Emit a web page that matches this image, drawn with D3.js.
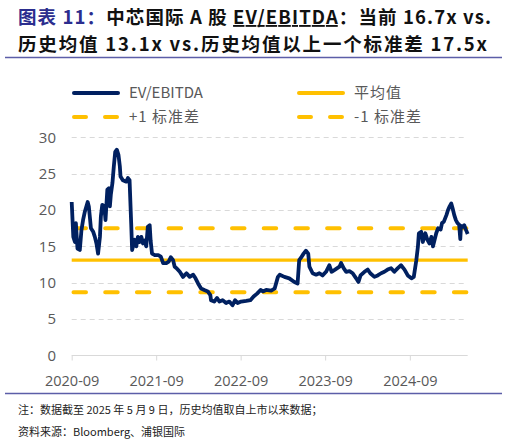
<!DOCTYPE html>
<html>
<head>
<meta charset="utf-8">
<script src="https://cdn.jsdelivr.net/npm/d3@7"></script>
<style>
  body { margin: 0; background: #fff; }
  svg { display: block; font-family: "Noto Sans CJK SC", "Noto Sans", sans-serif; }
</style>
</head>
<body>
<div id="chart"></div>
<script>
// EV/EBITDA series
var dates = [
  "2020-09-01","2020-09-08","2020-09-15","2020-09-19","2020-09-26","2020-10-06","2020-10-13","2020-10-20",
  "2020-10-28","2020-11-09","2020-11-14","2020-11-23","2020-12-03","2020-12-10","2020-12-17","2020-12-24",
  "2021-01-01","2021-01-05","2021-01-11","2021-01-20","2021-01-25","2021-02-02","2021-02-09","2021-02-13",
  "2021-02-17","2021-02-24","2021-03-02","2021-03-08","2021-03-15","2021-03-22","2021-03-28","2021-03-31",
  "2021-04-10","2021-04-25","2021-05-02","2021-05-09","2021-05-16","2021-05-20","2021-05-31","2021-06-07",
  "2021-06-14","2021-06-22","2021-06-29","2021-07-06","2021-07-13","2021-07-20","2021-07-27","2021-08-04",
  "2021-08-08","2021-08-14","2021-08-26","2021-09-10","2021-09-21","2021-10-01","2021-10-15","2021-10-25",
  "2021-11-03","2021-11-13","2021-11-20","2021-11-28","2021-12-12","2021-12-26","2022-01-10","2022-01-24",
  "2022-02-08","2022-02-18","2022-03-01","2022-03-14","2022-03-28","2022-04-12","2022-04-23","2022-04-26",
  "2022-05-10","2022-05-22","2022-06-01","2022-06-15","2022-06-30","2022-07-14","2022-07-28","2022-08-08",
  "2022-08-19","2022-09-03","2022-09-25","2022-10-13","2022-10-27","2022-11-11","2022-11-26","2022-12-06",
  "2022-12-20","2023-01-11","2023-01-26","2023-02-09","2023-02-17","2023-03-09","2023-03-30","2023-04-21",
  "2023-05-05","2023-05-12","2023-05-19","2023-05-31","2023-06-10","2023-06-20","2023-06-25","2023-07-09",
  "2023-07-24","2023-08-07","2023-08-21","2023-09-05","2023-09-19","2023-09-29","2023-10-14","2023-11-02",
  "2023-11-09","2023-11-20","2023-12-01","2023-12-15","2023-12-29","2024-01-13","2024-01-23","2024-02-01",
  "2024-02-18","2024-03-03","2024-03-14","2024-04-01","2024-04-15","2024-04-30","2024-05-14","2024-05-28",
  "2024-06-12","2024-06-26","2024-07-11","2024-07-25","2024-08-09","2024-08-23","2024-09-08","2024-09-18",
  "2024-09-29","2024-10-06","2024-10-10","2024-10-20","2024-10-27","2024-11-07","2024-11-16","2024-11-25",
  "2024-12-03","2024-12-10","2024-12-17","2024-12-24","2025-01-01","2025-01-12","2025-01-18","2025-01-26",
  "2025-02-06","2025-02-13","2025-02-20","2025-02-27","2025-03-05","2025-03-12","2025-03-19","2025-03-26",
  "2025-04-02","2025-04-07","2025-04-10","2025-04-17","2025-04-24","2025-05-01","2025-05-09"
];
var values = [
  21.1,16.3,15.6,18.2,14.7,14.5,17.2,18.6,
  19.8,21.1,20.5,17.5,17.0,16.3,15.4,14.0,
  16.3,19.1,20.7,20.5,18.6,22.8,23.0,20.5,
  22.1,23.7,26.0,28.0,28.3,27.6,26.0,24.6,
  24.1,23.9,24.4,24.1,18.2,14.5,15.9,15.0,
  16.3,15.6,16.3,15.4,15.8,15.0,17.7,17.9,
  15.8,14.0,13.8,13.8,13.6,12.7,12.7,12.9,
  13.5,13.1,12.2,12.0,11.5,10.8,11.3,10.8,
  11.1,10.6,9.9,9.2,9.0,8.8,8.3,7.6,
  7.4,7.9,7.4,7.6,7.2,7.4,6.9,7.6,
  7.2,7.4,7.5,7.6,8.1,8.5,9.0,8.8,
  9.0,8.9,9.2,10.8,11.1,10.8,10.6,10.1,
  9.9,13.1,13.4,14.0,14.4,14.0,12.2,11.3,
  11.1,11.3,11.0,11.5,12.4,11.5,11.8,12.2,
  12.7,12.0,11.5,11.6,11.3,10.6,10.1,11.0,
  11.5,11.8,11.3,10.8,11.0,11.3,11.5,11.8,
  12.0,11.5,12.0,12.4,11.8,11.0,10.6,10.8,
  13.1,15.0,16.8,17.0,15.6,16.8,15.9,15.4,
  16.3,15.0,15.9,16.8,17.5,17.3,18.2,18.4,
  19.3,20.0,20.5,20.9,20.2,19.3,18.6,18.2,
  18.0,16.0,17.8,17.7,17.9,17.3,16.7
];
var meanValue = 13.1;
var plusOneStd = 17.5;
var minusOneStd = 8.7;

var yTicks = [0, 5, 10, 15, 20, 25, 30];
var xTickDates = ["2020-09-01", "2021-09-01", "2022-09-01", "2023-09-01", "2024-09-01"];

var legendItems = [
  { label: "EV/EBITDA", color: "#002060", dash: null },
  { label: "平均值", color: "#FFC000", dash: null },
  { label: "+1 标准差", color: "#FFC000", dash: "12,19" },
  { label: "-1 标准差", color: "#FFC000", dash: "12,19" }
];

var width = 508, height = 446;
var parse = d3.timeParse("%Y-%m-%d");
var fmt = d3.timeFormat("%Y-%m");

var series = dates.map(function(d, i) { return { date: parse(d), value: values[i] }; });

var svg = d3.select("#chart").append("svg")
  .attr("width", width)
  .attr("height", height);

// title
var navy = "#2b2d8e";
var title1 = svg.append("text").attr("x", 18).attr("y", 24)
  .attr("textLength", 473).attr("lengthAdjust", "spacing")
  .style("font-size", "18.5px").style("font-weight", "bold").style("fill", "#111");
title1.append("tspan").style("fill", navy).text("图表 11：");
title1.append("tspan").text("中芯国际 A 股 ");
title1.append("tspan").style("text-decoration", "underline").text("EV/EBITDA");
title1.append("tspan").text("：当前 16.7x vs.");

svg.append("text").attr("x", 18).attr("y", 51)
  .attr("textLength", 469).attr("lengthAdjust", "spacing")
  .style("font-size", "18.5px").style("font-weight", "bold").style("fill", "#111")
  .text("历史均值 13.1x vs.历史均值以上一个标准差 17.5x");

svg.append("line").attr("x1", 5).attr("x2", 502).attr("y1", 57.5).attr("y2", 57.5)
  .attr("stroke", "#5c5ea8").attr("stroke-width", 1.3);
svg.append("line").attr("x1", 5).attr("x2", 502).attr("y1", 393.5).attr("y2", 393.5)
  .attr("stroke", "#5c5ea8").attr("stroke-width", 1.3);

// legend
var legend = svg.append("g");
legendItems.forEach(function(item, i) {
  var lx = (i % 2 === 0) ? 72 : 297;
  var ly = (i < 2) ? 93 : 117;
  legend.append("line")
    .attr("x1", lx + 2).attr("x2", lx + 46)
    .attr("y1", ly).attr("y2", ly)
    .attr("stroke", item.color)
    .attr("stroke-width", 4)
    .attr("stroke-linecap", "round")
    .attr("stroke-dasharray", item.dash);
  legend.append("text")
    .attr("x", lx + 57).attr("y", ly + 5)
    .style("font-size", "15px").style("fill", "#595959")
    .style("letter-spacing", i === 0 ? "0px" : "1px")
    .text(item.label);
});

// scales
var x = d3.scaleTime()
  .domain([parse("2020-09-01"), parse("2025-05-09")])
  .range([71.7, 467.7]);
var y = d3.scaleLinear()
  .domain([0, 30])
  .range([355.4, 137.3]);

// grid
svg.append("g").selectAll("line")
  .data(yTicks.filter(function(t) { return t > 0; }))
  .join("line")
  .attr("x1", x.range()[0]).attr("x2", x.range()[1])
  .attr("y1", function(d) { return Math.round(y(d)) + 0.5; })
  .attr("y2", function(d) { return Math.round(y(d)) + 0.5; })
  .attr("stroke", "#d9d9d9").attr("stroke-width", 1)
  .attr("stroke-dasharray", "5,4");

// y axis labels
var yAxis = d3.axisLeft(y).tickValues(yTicks).tickSize(0).tickPadding(0);
var gy = svg.append("g").attr("transform", "translate(56,0)").call(yAxis);
gy.select(".domain").remove();
gy.selectAll("text").style("font-size", "15px").style("fill", "#595959")
  .style("font-family", "'Open Sans', 'Noto Sans', sans-serif");

// x axis
var xAxis = d3.axisBottom(x)
  .tickValues(xTickDates.map(parse))
  .tickFormat(fmt)
  .tickSize(5)
  .tickPadding(15);
var gx = svg.append("g").attr("transform", "translate(0," + (Math.round(y(0)) + 0.5) + ")").call(xAxis);
gx.select(".domain").attr("stroke", "#d9d9d9").attr("d", "M" + x.range()[0] + ",0H" + x.range()[1]);
gx.selectAll(".tick line").attr("stroke", "#d9d9d9");
gx.selectAll("text").style("font-size", "14.5px").style("fill", "#595959")
  .style("font-family", "'Open Sans', 'Noto Sans', sans-serif");

// reference lines
var refs = [
  { v: plusOneStd, dash: "12.5,19.2" },
  { v: meanValue, dash: null },
  { v: minusOneStd, dash: "12.5,19.2" }
];
svg.append("g").selectAll("line")
  .data(refs)
  .join("line")
  .attr("x1", function(d) { return d.dash ? 73.5 : 71.7; })
  .attr("x2", x.range()[1])
  .attr("y1", function(d) { return y(d.v); })
  .attr("y2", function(d) { return y(d.v); })
  .attr("stroke", "#FFC000")
  .attr("stroke-width", function(d) { return d.dash ? 4 : 3.2; })
  .attr("stroke-linecap", function(d) { return d.dash ? "round" : "butt"; })
  .attr("stroke-dasharray", function(d) { return d.dash; });

// series line
var line = d3.line()
  .x(function(d) { return x(d.date); })
  .y(function(d) { return y(d.value); });
svg.append("path")
  .datum(series)
  .attr("d", line)
  .attr("fill", "none")
  .attr("stroke", "#002060")
  .attr("stroke-width", 3.8)
  .attr("stroke-linejoin", "round");

// footnotes
svg.append("text").attr("x", 18).attr("y", 414)
  .style("font-size", "11px").style("fill", "#222")
  .text("注：数据截至 2025 年 5 月 9 日，历史均值取自上市以来数据；");
svg.append("text").attr("x", 18).attr("y", 436)
  .style("font-size", "11px").style("fill", "#222")
  .text("资料来源：Bloomberg、浦银国际");
</script>
</body>
</html>
